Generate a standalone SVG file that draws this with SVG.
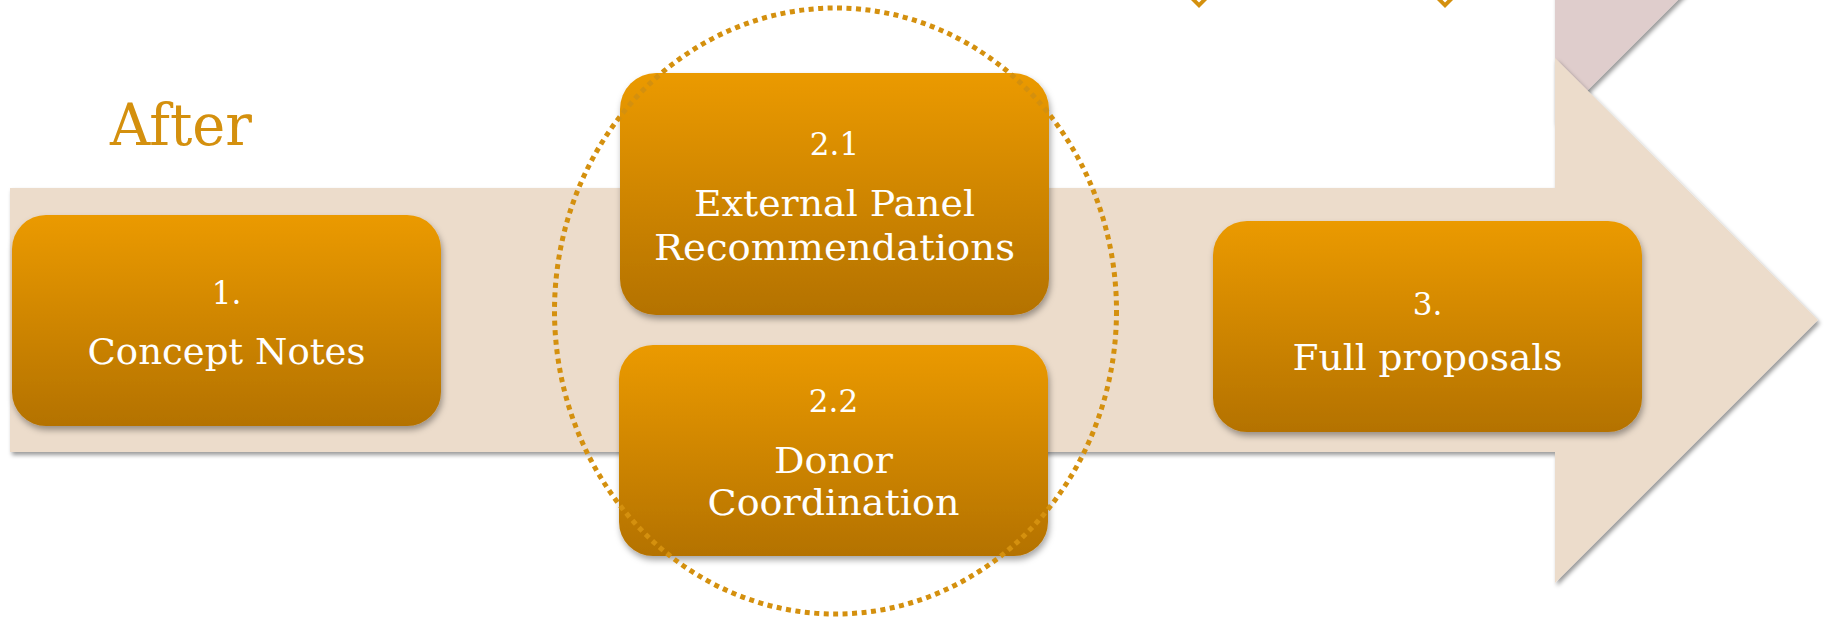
<svg xmlns="http://www.w3.org/2000/svg" width="1824" height="617" viewBox="0 0 1824 617">
  <defs>
    <linearGradient id="boxGrad" x1="0" y1="0" x2="0" y2="1">
      <stop offset="0" stop-color="#eb9a00"/>
      <stop offset="1" stop-color="#b47200"/>
    </linearGradient>
    <filter id="shapeShadow" x="-5%" y="-10%" width="110%" height="125%">
      <feDropShadow dx="2" dy="3" stdDeviation="2" flood-color="#000000" flood-opacity="0.4"/>
    </filter>
    <filter id="boxShadow" x="-5%" y="-10%" width="110%" height="125%">
      <feDropShadow dx="1.5" dy="4" stdDeviation="3" flood-color="#000000" flood-opacity="0.35"/>
    </filter>
  </defs>
  <style>
    .box { fill: url(#boxGrad); filter: url(#boxShadow); }
    .lbl { font-family: "DejaVu Serif", "Liberation Serif", serif; fill: #ffffff; text-anchor: middle; }
    .big { font-size: 35px; }
    .num { font-size: 31px; }
    .title { font-family: "DejaVu Serif", "Liberation Serif", serif; font-size: 58px; fill: #d4900e; }
    .diamond { fill: #d4900e; }
  </style>
  <rect x="0" y="0" width="1824" height="617" fill="#ffffff"/>

  <!-- background decorative shapes -->
  <g id="decor">
    <polygon points="1191,0 1207,0 1199,8" class="diamond"/>
    <polygon points="1196.5,0 1201.5,0 1199,2.5" fill="#ffffff"/>
    <polygon points="1437,0 1453,0 1445,8" class="diamond"/>
    <polygon points="1442.5,0 1447.5,0 1445,2.5" fill="#ffffff"/>
    <path d="M1555,-10 H1688 L1555,123 Z" fill="#dfcdcc" filter="url(#shapeShadow)"/>
  </g>

  <!-- big process arrow -->
  <g id="arrow">
    <path d="M10,188 H1555 V58 L1818,320 L1555,583 V452 H10 Z" fill="#ecdccb" filter="url(#shapeShadow)"/>
  </g>

  <text id="title" class="title" x="110" y="145" textLength="142" lengthAdjust="spacingAndGlyphs">After</text>

  <g id="node1">
    <rect class="box" x="12" y="215" width="429" height="211" rx="34" ry="34"/>
    <text class="lbl num" x="226.5" y="304">1.</text>
    <text class="lbl big" x="226.5" y="364" textLength="278" lengthAdjust="spacingAndGlyphs">Concept Notes</text>
  </g>

  <g id="node2-1">
    <rect class="box" x="620" y="73" width="429" height="242" rx="36" ry="36"/>
    <text class="lbl num" x="834.5" y="155">2.1</text>
    <text class="lbl big" x="834.5" y="216" textLength="281" lengthAdjust="spacingAndGlyphs">External Panel</text>
    <text class="lbl big" x="834.5" y="260" textLength="361" lengthAdjust="spacingAndGlyphs">Recommendations</text>
  </g>

  <g id="node2-2">
    <rect class="box" x="619" y="345" width="429" height="211" rx="34" ry="34"/>
    <text class="lbl num" x="833.5" y="412">2.2</text>
    <text class="lbl big" x="833.5" y="473" textLength="119" lengthAdjust="spacingAndGlyphs">Donor</text>
    <text class="lbl big" x="833.5" y="515" textLength="252" lengthAdjust="spacingAndGlyphs">Coordination</text>
  </g>

  <g id="node3">
    <rect class="box" x="1213" y="221" width="429" height="211" rx="34" ry="34"/>
    <text class="lbl num" x="1427.5" y="315">3.</text>
    <text class="lbl big" x="1427.5" y="370" textLength="270" lengthAdjust="spacingAndGlyphs">Full proposals</text>
  </g>

  <g id="connectors">
    <ellipse id="group-circle" cx="835.5" cy="311" rx="281" ry="303" fill="none" stroke="#d4900e" stroke-width="5" stroke-dasharray="5 4.5"/>
  </g>
</svg>
